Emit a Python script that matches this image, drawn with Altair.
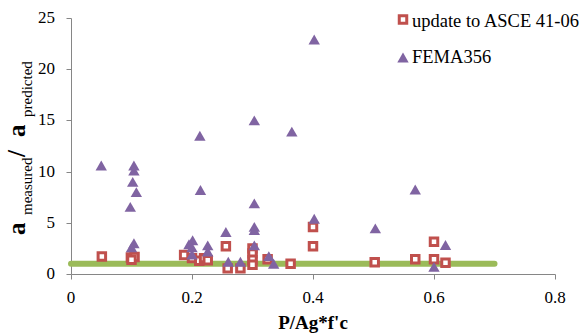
import altair as alt
import pandas as pd

# ---- data ----
asce_x = [0.051, 0.099, 0.105, 0.100, 0.187, 0.200, 0.212, 0.220, 0.226, 0.256,
          0.259, 0.280, 0.300, 0.300, 0.300, 0.300, 0.325, 0.363, 0.400, 0.400,
          0.502, 0.569, 0.600, 0.600, 0.619]
asce_y = [1.70, 1.60, 1.65, 1.40, 1.85, 1.55, 1.30, 1.55, 1.35, 2.70,
          0.55, 0.55, 2.50, 2.00, 1.40, 0.90, 1.45, 1.00, 4.60, 2.70,
          1.14, 1.43, 3.15, 1.43, 1.10]

fema_x = [0.050, 0.104, 0.104, 0.102, 0.108, 0.098, 0.104, 0.100, 0.195, 0.201,
          0.200, 0.200, 0.213, 0.214, 0.226, 0.226, 0.256, 0.260, 0.280, 0.303,
          0.303, 0.303, 0.303, 0.303, 0.327, 0.335, 0.365, 0.402, 0.402, 0.503,
          0.569, 0.600, 0.619]
fema_y = [10.6, 10.6, 10.1, 9.0, 8.0, 6.55, 3.0, 2.6, 2.9, 3.3,
          2.6, 1.9, 13.5, 8.2, 2.8, 2.2, 4.1, 1.2, 1.2, 15.0,
          6.9, 4.6, 4.3, 2.8, 1.75, 1.0, 13.9, 22.9, 5.4, 4.45,
          8.25, 0.7, 2.83]

ref_x = [0.0, 0.7]
ref_y = [1.0, 1.0]

series_names = ["update to ASCE 41-06", "FEMA356"]
x_ticks = [0, 0.2, 0.4, 0.6, 0.8]
x_tick_labels = ["0", "0.2", "0.4", "0.6", "0.8"]
y_ticks = [0, 5, 10, 15, 20, 25]
y_tick_labels = ["0", "5", "10", "15", "20", "25"]
x_title = "P/Ag*f'c"

FONT = "Liberation Serif"
RED = "#C0504D"
PURPLE = "#8064A2"
GREEN = "#9BBB59"
AXIS_GRAY = "#868686"

xscale = alt.Scale(domain=[0, 0.8], nice=False, zero=False)
yscale = alt.Scale(domain=[0, 25], nice=False, zero=False)

xaxis = alt.Axis(values=x_ticks, labels=False, title=None)
yaxis = alt.Axis(values=y_ticks, labels=False, title=None)

X = alt.X("x:Q", scale=xscale, axis=xaxis)
Y = alt.Y("y:Q", scale=yscale, axis=yaxis)

ref_df = pd.DataFrame({"x": ref_x, "y": ref_y})
asce_df = pd.DataFrame({"x": asce_x, "y": asce_y})
fema_df = pd.DataFrame({"x": fema_x, "y": fema_y})

line = alt.Chart(ref_df).mark_line(color=GREEN, strokeWidth=6, strokeCap="round").encode(x=X, y=Y)

squares = alt.Chart(asce_df).mark_point(
    shape="square", size=56, filled=False, stroke=RED, strokeWidth=3, fill="white", opacity=1
).encode(x=X, y=Y)

triangles = alt.Chart(fema_df).mark_point(
    shape="triangle-up", size=130, filled=True, fill=PURPLE, strokeWidth=0, opacity=1
).encode(x=X, y=Y)

# ---- tick labels (serif) through the scales ----
xlab = alt.Chart(pd.DataFrame({"x": x_ticks, "t": x_tick_labels})).mark_text(
    font=FONT, fontSize=17, color="black", align="center", baseline="alphabetic"
).encode(x=X, y=alt.value(285), text="t:N")
ylab = alt.Chart(pd.DataFrame({"y": y_ticks, "t": y_tick_labels})).mark_text(
    font=FONT, fontSize=17, color="black", align="right", baseline="middle"
).encode(y=Y, x=alt.value(-16), text="t:N")


def txt(s, x, y, size, weight="normal", angle=0, align="left"):
    return alt.Chart(pd.DataFrame({"t": [s]})).mark_text(
        font=FONT, fontSize=size, fontWeight=weight, color="black",
        align=align, baseline="alphabetic", angle=angle
    ).encode(text="t:N", x=alt.value(x), y=alt.value(y))


xtitle = txt(x_title, 242, 311, 19, "bold", 0, "center")

# ---- legend (manual) ----
leg_sq = alt.Chart(pd.DataFrame({"t": [series_names[0]]})).mark_point(
    shape="square", size=56, filled=False, stroke=RED, strokeWidth=3, fill="white", opacity=1
).encode(x=alt.value(332), y=alt.value(1.5))
leg_tri = alt.Chart(pd.DataFrame({"t": [series_names[1]]})).mark_point(
    shape="triangle-up", size=130, filled=True, fill=PURPLE, strokeWidth=0, opacity=1
).encode(x=alt.value(332), y=alt.value(39.5))
leg_t1 = txt(series_names[0], 341, 8.7, 18.5)
leg_t2 = txt(series_names[1], 341, 44.7, 18.5)

# ---- y title: a_measured / a_predicted ----
yt = [
    txt("a", -46, 217, 25, "bold", 270),
    txt("measured", -39, 197, 15, "normal", 270),
    txt("/", -46, 139, 25, "bold", 270),
    txt("a", -46, 119, 25, "bold", 270),
    txt("predicted", -39, 99, 15, "normal", 270),
]

chart = alt.layer(line, squares, triangles, xlab, ylab, xtitle,
                  leg_sq, leg_tri, leg_t1, leg_t2, *yt).properties(
    width=484, height=256,
    autosize=alt.AutoSizeParams(type="none"),
    padding={"left": 71, "top": 18, "right": 27, "bottom": 60},
).configure_view(stroke=None).configure_axis(
    domainColor=AXIS_GRAY, tickColor=AXIS_GRAY, domainWidth=1, tickWidth=1, tickSize=5,
    grid=False
)

chart.save("out.html", embed_options={"renderer": "svg", "actions": False})
